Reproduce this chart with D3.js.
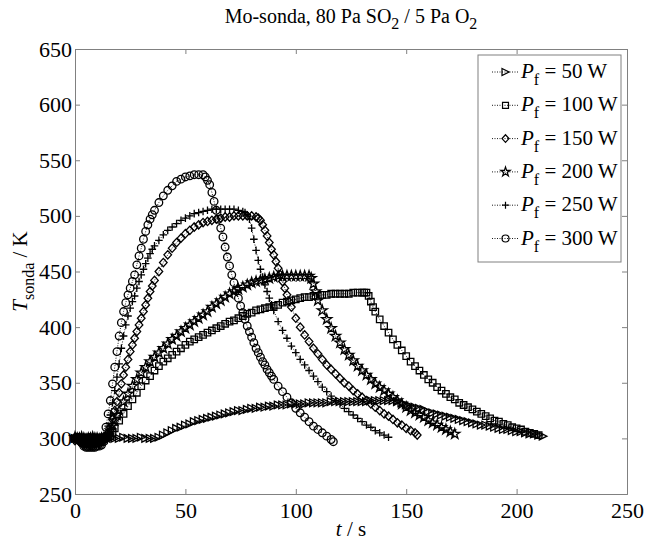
<!DOCTYPE html>
<html><head><meta charset="utf-8">
<script src="https://cdn.jsdelivr.net/npm/d3@7"></script>
<style>body{margin:0;background:#fff}text{font-family:"Liberation Serif","Times New Roman",serif;fill:#000}</style>
</head><body>
<svg id="c" width="648" height="540"></svg>
<script>
const xTicks=[0,50,100,150,200,250];
const yTicks=[250,300,350,400,450,500,550,600,650];
const powers=["50","100","150","200","250","300"];
const markerKinds=["triangle","square","diamond","star","plus","circle"];

// 50 W (triangles)
const t50=[0,2,4,6,8,10,12,14,16,18,20,22,24,26,28,30,32,34,36,
38,40,42,44,46,48,50,52,54,56,58,60,62,64,66,68,70,72,74,76,78,80,82,84,86,88,90,92,94,96,98,100,102,104,106,108,110,112,114,116,118,120,122,124,126,128,130,132,134,136,138,140,142,144,146,148,150,152,154,156,158,160,162,164,166,168,170,172,174,176,178,180,182,184,186,188,190,192,194,196,198,200,202,204,206,208,210,212];
const T50=[300,301,300,300,301,300,300,300,301,300,300,301,300,300,300,301,300,300,300,
301,303,305,307,309,310,312,313,315,316,
317,318,319,320,321,322,323,324,325,325,
326,327,327,328,328,329,329,330,330,330,
331,331,331,331,332,332,332,332,332,333,
333,333,333,333,333,333,333,333,334,334,
334,334,334,334,333,332,330,329,328,327,
326,324,323,322,321,320,319,318,317,316,
315,314,313,312,312,311,310,309,308,308,
307,306,306,305,304,304,303,302];

// 100 W (squares)
const t100=[0,1,2,3,4,5,6,7,8,9,10,11,12,13,14,15,16,17,18,
20,22,24,26,28,30,32,34,36,38,40,42,44,46,48,50,52,54,56,58,60,62,64,66,68,70,72,74,76,78,80,82,84,86,88,90,92,94,96,98,100,102,104,106,108,110,112,114,116,118,120,122,124,126,128,130,
131,132,133,134,135,136,
138,140,142,144,146,148,150,152,154,156,158,160,162,164,166,168,170,172,174,176,178,180,182,184,186,188,190,192,194,196,198,200,202,204,206,208,210];
const T100=[300,301,300,300,301,300,300,301,300,300,301,300,300,301,300,301,302,305,309,
316,322,329,335,341,347,352,356,361,365,369,372,375,378,381,384,387,389,391,393,395,397,399,401,403,405,406,408,410,412,413,415,416,417,418,419,420,422,423,424,425,426,427,427,428,428,429,429,430,430,430,430,430,431,431,431,
431,431,428,423,418,414,
407,401,395,389,384,379,374,369,365,361,357,353,350,346,343,340,337,335,332,330,328,326,324,322,320,318,316,315,313,312,310,309,308,306,305,304,303];

// 150 W (diamonds)
const t150=[0,1,2,3,4,5,6,7,8,9,10,11,12,13,14,15,16,17,18,19,20,21,22,23,24,25,26,27,28,29,30,31,32,33,34,35,36,
38,40,42,44,46,48,50,52,54,56,58,60,62,64,66,68,70,72,74,76,78,80,82,
83,84,85,86,87,88,89,90,91,92,93,94,95,96,97,98,
100,102,104,106,108,110,112,114,116,118,120,122,124,126,128,130,132,134,136,138,140,142,144,146,148,150,152,154,155];
const T150=[298,299,297,296,295,295,295,295,295,295,296,296,297,298,300,305,310,317,325,333,341,349,357,364,371,378,384,390,396,402,408,414,420,426,432,437,442,
450,458,465,471,476,480,484,487,490,492,494,495,496,497,498,499,499,500,500,500,500,500,499,
498,496,492,487,482,476,470,465,459,453,447,441,435,429,423,418,
408,400,393,387,381,376,371,366,362,358,354,350,347,343,340,337,334,331,328,325,322,320,317,314,312,309,307,305,303];

// 200 W (stars)
const t200=[0,1,2,3,4,5,6,7,8,9,10,11,12,13,14,15,16,17,18,19,20,
22,24,26,28,30,32,34,36,38,40,42,44,46,48,50,52,54,56,58,60,62,64,66,68,70,72,74,76,78,80,82,84,86,88,90,92,94,96,98,100,102,104,106,
107,108,109,110,
112,114,116,118,120,122,124,126,128,130,132,134,136,138,140,142,144,146,148,150,152,154,156,158,160,162,164,166,168,170,172];
const T200=[301,300,300,301,300,299,300,300,301,300,300,299,300,300,301,303,307,312,316,321,325,
333,340,347,353,359,364,369,373,377,381,385,389,392,396,399,402,405,408,411,414,418,421,424,427,430,432,434,436,438,440,441,442,443,444,445,446,446,446,446,446,446,446,446,
444,439,432,424,
415,407,399,392,386,380,375,370,365,361,357,353,349,346,343,340,337,334,331,328,325,323,321,319,316,314,312,310,308,306,304];

// 250 W (plus)
const t250=[0,1,2,3,4,5,6,7,8,9,10,11,12,13,14,15,16,17,18,19,20,21,22,23,24,25,26,27,28,29,30,31,32,33,34,35,36,
38,40,42,44,46,48,50,52,54,56,58,60,
62,64,66,68,70,72,74,76,
77,78,79,80,81,82,83,84,85,86,87,88,89,90,
92,94,96,98,100,102,104,106,108,110,112,114,116,118,120,122,124,126,128,130,132,134,136,138,140,142];
const T250=[299,300,298,295,293,293,293,293,293,293,294,294,295,298,303,311,321,332,343,355,367,381,392,402,410,417,423,428,435,441,447,452,457,462,466,470,473,
478,483,487,490,493,496,498,500,502,503,504,505,
506,506,506,506,506,506,505,504,
503,501,497,489,479,469,460,452,445,438,432,426,420,415,
405,397,390,383,377,371,366,361,356,351,346,342,338,334,331,327,324,321,318,315,312,310,307,305,303,301];

// 300 W (circles)
const t300=[0,1,2,3,4,5,6,7,8,9,10,11,12,13,14,15,16,17,18,19,20,21,22,23,24,25,26,27,28,29,30,31,32,33,34,35,36,
38,40,42,44,46,48,50,52,54,56,58,
59,60,61,62,63,64,65,66,67,68,69,70,71,72,73,74,75,76,77,78,79,80,81,82,83,84,85,86,87,88,89,90,
92,94,96,98,100,102,104,106,108,110,112,114,116,117];
const T300=[300,301,299,296,293,292,292,292,292,292,293,293,294,297,310,322,334,349,364,378,392,404,414,422,429,435,441,447,456,464,471,479,486,492,497,501,505,
512,518,523,527,531,533,535,536,537,537,537,
535,532,528,521,513,505,497,489,481,472,463,455,447,440,433,426,419,413,407,401,396,391,386,381,377,373,369,366,362,359,356,353,
347,342,337,332,327,323,319,315,311,308,305,302,299,297];

const seriesT=[t50,t100,t150,t200,t250,t300];
const seriesV=[T50,T100,T150,T200,T250,T300];

const svg=d3.select("#c");
const X0=75,X1=627,Y0=49,Y1=494;
const x=d3.scaleLinear().domain([0,250]).range([X0,X1]);
const y=d3.scaleLinear().domain([250,650]).range([Y1,Y0]);
const axisCol="#808080";

function markerPath(kind,r){
  switch(kind){
    case "triangle": return `M${-r},${-r}L${r},0L${-r},${r}Z`;
    case "square": return `M${-r*0.85},${-r*0.85}H${r*0.85}V${r*0.85}H${-r*0.85}Z`;
    case "diamond": return `M0,${-r*1.1}L${r},0L0,${r*1.1}L${-r},0Z`;
    case "star": return d3.symbol(d3.symbolStar,r*r*2.2)();
    case "plus": return `M${-r},0H${r}M0,${-r}V${r}`;
    case "circle": return d3.symbol(d3.symbolCircle,Math.PI*r*r)();
  }
}

// axes box
const gx=svg.append("g").attr("transform",`translate(0,${Y1})`)
  .call(d3.axisBottom(x).tickValues(xTicks).tickSize(-5).tickPadding(8));
const gxt=svg.append("g").attr("transform",`translate(0,${Y0})`)
  .call(d3.axisTop(x).tickValues(xTicks).tickSize(-5).tickFormat(""));
const gy=svg.append("g").attr("transform",`translate(${X0},0)`)
  .call(d3.axisLeft(y).tickValues(yTicks).tickSize(-5).tickPadding(3));
const gyr=svg.append("g").attr("transform",`translate(${X1},0)`)
  .call(d3.axisRight(y).tickValues(yTicks).tickSize(-5).tickFormat(""));
[gx,gxt,gy,gyr].forEach(g=>{
  g.select(".domain").attr("stroke",axisCol);
  g.selectAll(".tick line").attr("stroke",axisCol);
  g.selectAll(".tick text").attr("font-family","Liberation Serif").attr("font-size",22).attr("fill","#000");
});

const line=d3.line().x(d=>x(d[0])).y(d=>y(d[1]));
const r=3.8;
seriesT.forEach((ts,i)=>{
  const pts=d3.zip(ts,seriesV[i]);
  const g=svg.append("g");
  g.append("path").datum(pts).attr("d",line).attr("fill","none")
    .attr("stroke","#000").attr("stroke-width",0.9).attr("stroke-dasharray","1,1.5");
  g.selectAll("path.m").data(pts).join("path").attr("class","m")
    .attr("transform",d=>`translate(${x(d[0])},${y(d[1])})`)
    .attr("d",markerPath(markerKinds[i],r))
    .attr("fill","none").attr("stroke","#000").attr("stroke-width",1.3);
});

// legend
const lg=svg.append("g");
lg.append("rect").attr("x",478).attr("y",55).attr("width",143).attr("height",207)
  .attr("fill","#fff").attr("stroke",axisCol).attr("stroke-width",1);
powers.forEach((p,i)=>{
  const cy=72+i*33.3;
  lg.append("line").attr("x1",492).attr("x2",519).attr("y1",cy).attr("y2",cy)
    .attr("stroke","#000").attr("stroke-width",0.9).attr("stroke-dasharray","1,1.5");
  lg.append("path").attr("transform",`translate(505.5,${cy})`).attr("d",markerPath(markerKinds[i],3.5))
    .attr("fill","none").attr("stroke","#000").attr("stroke-width",1.2);
  const t=lg.append("text").attr("x",521).attr("y",cy+6).attr("font-size",21);
  t.append("tspan").attr("font-style","italic").text("P");
  t.append("tspan").attr("font-size",16).attr("dy",7).text("f");
  t.append("tspan").attr("dy",-7).text(" = "+p+" W");
});

// title
const tt=svg.append("text").attr("x",(X0+X1)/2).attr("y",23).attr("text-anchor","middle").attr("font-size",20);
tt.append("tspan").text("Mo-sonda, 80 Pa SO");
tt.append("tspan").attr("font-size",16).attr("dy",6).text("2");
tt.append("tspan").attr("dy",-6).text(" / 5 Pa O");
tt.append("tspan").attr("font-size",16).attr("dy",6).text("2");

// x label
const xl=svg.append("text").attr("x",(X0+X1)/2).attr("y",536).attr("text-anchor","middle").attr("font-size",21);
xl.append("tspan").attr("font-style","italic").text("t");
xl.append("tspan").text(" / s");

// y label
const yl=svg.append("text").attr("transform",`translate(27,${(Y0+Y1)/2}) rotate(-90)`).attr("text-anchor","middle").attr("font-size",21);
yl.append("tspan").attr("font-style","italic").text("T");
yl.append("tspan").attr("font-size",16).attr("dy",7).text("sonda");
yl.append("tspan").attr("dy",-7).text(" / K");
</script>
</body></html>
